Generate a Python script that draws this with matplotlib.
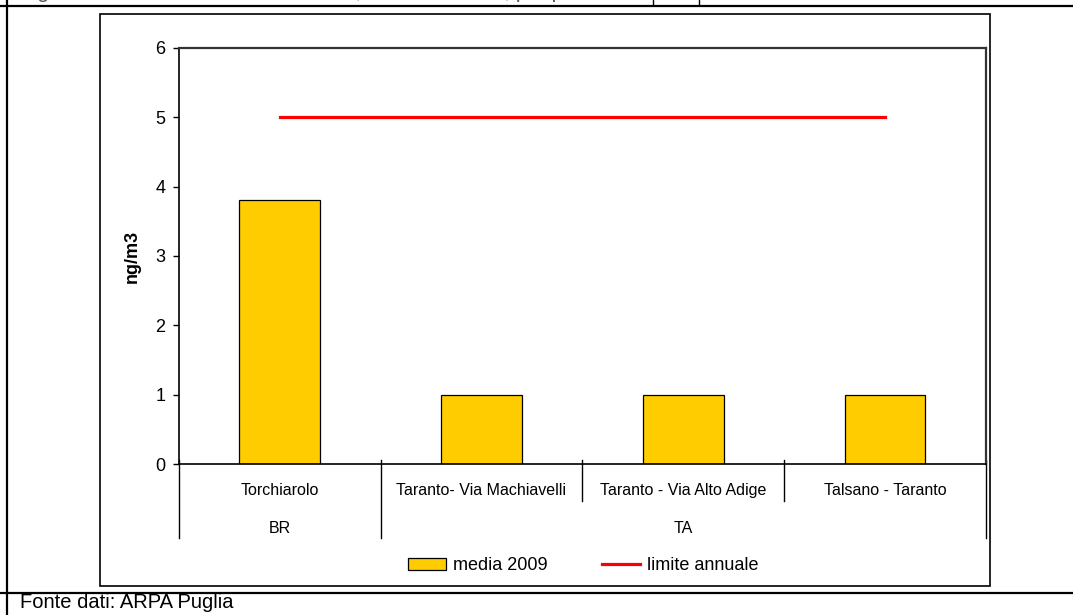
import matplotlib
matplotlib.use("Agg")
import matplotlib.pyplot as plt
from matplotlib.patches import Patch, Rectangle
from matplotlib.lines import Line2D

plt.rcParams['font.family'] = ['Liberation Sans', 'DejaVu Sans']

# stazioni e province
stazioni = ['Torchiarolo', 'Taranto- Via Machiavelli', 'Taranto - Via Alto Adige', 'Talsano - Taranto']
province = ['BR', 'TA']
n_per_provincia = [1, 3]
media_2009 = [3.8, 1.0, 1.0, 1.0]
limite_annuale = 5
y_ticks = [0, 1, 2, 3, 4, 5, 6]

W, H = 1073, 615
fig = plt.figure(figsize=(W / 100, H / 100), dpi=100)

def fx(px):
    return px / W

def fy(py):
    return 1 - py / H

# cornice esterna del documento
fig.add_artist(Line2D([0, 1], [fy(5.5), fy(5.5)], color='black', lw=1.6))
fig.add_artist(Line2D([0, 1], [fy(593), fy(593)], color='black', lw=1.6))
fig.add_artist(Line2D([fx(7), fx(7)], [0, 1], color='black', lw=1.6))
fig.add_artist(Line2D([fx(653), fx(653)], [fy(0), fy(5)], color='black', lw=1))
fig.add_artist(Line2D([fx(699), fx(699)], [fy(0), fy(5)], color='black', lw=1))

# titolo tagliato in alto (si vede solo la parte bassa)
fig.text(fx(20), fy(-2.2), 'Figura - Cadmio: valori medi annuali, media annuale, per provincia',
         fontsize=15, va='baseline', ha='left', color='#555555')

# area grafico
fig.add_artist(Rectangle((fx(100), fy(586)), fx(990) - fx(100), fy(14) - fy(586),
                         transform=fig.transFigure, fill=False, edgecolor='black', lw=1.2))

ax = fig.add_axes([fx(178.7), fy(464.3), fx(986) - fx(178.7), fy(47.7) - fy(464.3)])

x = [i + 0.5 for i in range(len(stazioni))]
ax.bar(x, media_2009, width=0.4, color='#FFCC00', edgecolor='black', lw=0.9, zorder=2)
ax.plot([x[0], x[-1]], [limite_annuale, limite_annuale], color='#FF0000', lw=2.3, zorder=3)

ax.set_xlim(0, len(stazioni))
ax.set_ylim(0, 6)
ax.set_yticks(y_ticks)
ax.tick_params(axis='y', labelsize=13, length=4.5, width=1, direction='out', pad=5)
ax.set_xticks([])
ax.set_ylabel('ng/m3', fontsize=13, fontweight='bold', va='center')
ax.yaxis.set_label_coords(-0.058, 0.5)

for s in ['left', 'bottom']:
    ax.spines[s].set_color('black')
    ax.spines[s].set_linewidth(1.2)
for s in ['top', 'right']:
    ax.spines[s].set_color('#333333')
    ax.spines[s].set_linewidth(1.6)

# asse categorie a due livelli
tr = ax.get_xaxis_transform()
ax_h = 464.3 - 47.7
confini = [0]
for n in n_per_provincia:
    confini.append(confini[-1] + n)
for i in range(len(stazioni) + 1):
    lungo = i in confini
    y_end = -74 / ax_h if lungo else -37 / ax_h
    ax.add_artist(Line2D([i, i], [4 / ax_h, y_end], transform=tr, color='black',
                         lw=1, clip_on=False))
for xi, nome in zip(x, stazioni):
    ax.text(xi, -30.5 / ax_h, nome, transform=tr, ha='center', va='baseline', fontsize=11.5)
for j, prov in enumerate(province):
    ax.text((confini[j] + confini[j + 1]) / 2, -68.5 / ax_h, prov, transform=tr,
            ha='center', va='baseline', fontsize=11.5)

handles = [Patch(facecolor='#FFCC00', edgecolor='black', lw=0.9),
           Line2D([0], [0], color='#FF0000', lw=2.3)]
fig.legend(handles, ['media 2009', 'limite annuale'], loc='center',
           bbox_to_anchor=(fx(583), fy(566)), ncol=2, frameon=False, fontsize=13,
           handlelength=2.1, handleheight=0.6, handletextpad=0.4, columnspacing=3.0)

fig.text(fx(20), fy(603), 'Fonte dati: ARPA Puglia', fontsize=14.5, va='center', ha='left')

fig.savefig('out.png', dpi=100)
